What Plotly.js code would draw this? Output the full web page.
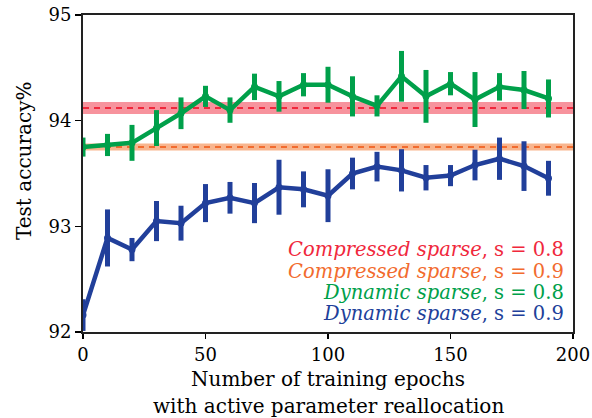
<!DOCTYPE html>
<html>
<head>
<meta charset="utf-8">
<script src="https://cdn.plot.ly/plotly-3.0.1.min.js"></script>
<style>html,body{margin:0;padding:0;background:#fff;}#chart{width:592px;height:418px;}</style>
</head>
<body>
<div id="chart"></div>
<script>
const epochs = [0,10,20,30,40,50,60,70,80,90,100,110,120,130,140,150,160,170,180,190];
const dyn08 = [93.75,93.77,93.79,93.93,94.07,94.23,94.10,94.32,94.23,94.34,94.34,94.23,94.14,94.42,94.23,94.35,94.20,94.32,94.29,94.21];
const dyn08Err = [0.09,0.105,0.17,0.17,0.15,0.10,0.12,0.125,0.145,0.11,0.17,0.19,0.10,0.24,0.25,0.11,0.26,0.13,0.18,0.18];
const dyn09 = [92.16,92.89,92.78,93.05,93.03,93.22,93.27,93.22,93.37,93.35,93.29,93.50,93.565,93.53,93.46,93.48,93.58,93.64,93.57,93.455];
const dyn09Err = [0.15,0.27,0.11,0.19,0.165,0.18,0.15,0.19,0.26,0.17,0.25,0.15,0.14,0.20,0.12,0.10,0.145,0.20,0.235,0.165];
const comp08Mean = 94.12, comp08Std = 0.057;
const comp09Mean = 93.75, comp09Std = 0.033;
const xSpan = [0, 200];
const xTitleLines = ["Number of training epochs", "with active parameter reallocation"];
const yTitle = "Test accuracy%";
const legendLabels = [
  ["Compressed sparse", "s = 0.8"],
  ["Compressed sparse", "s = 0.9"],
  ["Dynamic sparse", "s = 0.8"],
  ["Dynamic sparse", "s = 0.9"]
];
const colors = {c08:'#f0283c', c08band:'rgba(240,40,60,0.5)', c09:'#f26b2e', c09band:'rgba(242,120,50,0.55)', d08:'#00a04a', d09:'#213f9a'};
const legendColors = [colors.c08, colors.c09, colors.d08, colors.d09];

function band(mean, std, fill){
  return {x:[xSpan[0], xSpan[1], xSpan[1], xSpan[0], xSpan[0]], y:[mean-std, mean-std, mean+std, mean+std, mean-std],
    mode:'lines', fill:'toself', fillcolor:fill, line:{width:0}, hoverinfo:'skip', showlegend:false};
}
function hline(mean, color){
  return {x:xSpan, y:[mean, mean], mode:'lines', line:{color:color, width:2, dash:'6px,5px'}, showlegend:false};
}
const traces = [
  band(comp08Mean, comp08Std, colors.c08band),
  hline(comp08Mean, colors.c08),
  band(comp09Mean, comp09Std, colors.c09band),
  hline(comp09Mean, colors.c09),
  {x:epochs, y:dyn08, error_y:{type:'data', array:dyn08Err, visible:true, color:colors.d08, thickness:5, width:0},
   mode:'lines+markers', line:{color:colors.d08, width:4.5}, marker:{color:colors.d08, size:7}, showlegend:false, cliponaxis:true},
  {x:epochs, y:dyn09, error_y:{type:'data', array:dyn09Err, visible:true, color:colors.d09, thickness:5, width:0},
   mode:'lines+markers', line:{color:colors.d09, width:4.5}, marker:{color:colors.d09, size:7}, showlegend:false, cliponaxis:true}
];
const font = "DejaVu Serif";
const annotations = legendLabels.map((l, i) => ({
  xref:'paper', yref:'paper', x:0.985, y:0.259 - i*0.0672, xanchor:'right', yanchor:'middle',
  text:'<i>' + l[0] + '</i>, ' + l[1], showarrow:false,
  font:{family:font, size:19.5, color:legendColors[i]}
})).concat(xTitleLines.map((t, i) => ({
  xref:'paper', yref:'paper', x:0.5, y:-0.147 - i*0.085, xanchor:'center', yanchor:'middle',
  text:t, showarrow:false, font:{family:font, size:20, color:'#000'}
}))).concat([{
  xref:'paper', yref:'paper', x:-0.12, y:0.54, xanchor:'center', yanchor:'middle', textangle:-90,
  text:yTitle, showarrow:false, font:{family:font, size:20, color:'#000'}
}]);
const layout = {
  width:592, height:418,
  margin:{l:83, r:19, t:15, b:86},
  paper_bgcolor:'#fff', plot_bgcolor:'#fff',
  showlegend:false,
  font:{family:font, size:18, color:'#000'},
  xaxis:{range:[0,200], tickvals:[0,50,100,150,200], ticks:'outside', ticklen:5, tickwidth:1.5, tickcolor:'#000',
    showgrid:false, zeroline:false, showline:true, mirror:true, linecolor:'#222', linewidth:2,
    tickfont:{family:font, size:18}},
  yaxis:{range:[92,95], tickvals:[92,93,94,95], ticks:'outside', ticklen:6, tickwidth:1.5, tickcolor:'#000',
    showgrid:false, zeroline:false, showline:true, mirror:true, linecolor:'#222', linewidth:2,
    tickfont:{family:font, size:18}},
  annotations:annotations
};
Plotly.newPlot('chart', traces, layout, {staticPlot:true, displayModeBar:false});
</script>
</body>
</html>
